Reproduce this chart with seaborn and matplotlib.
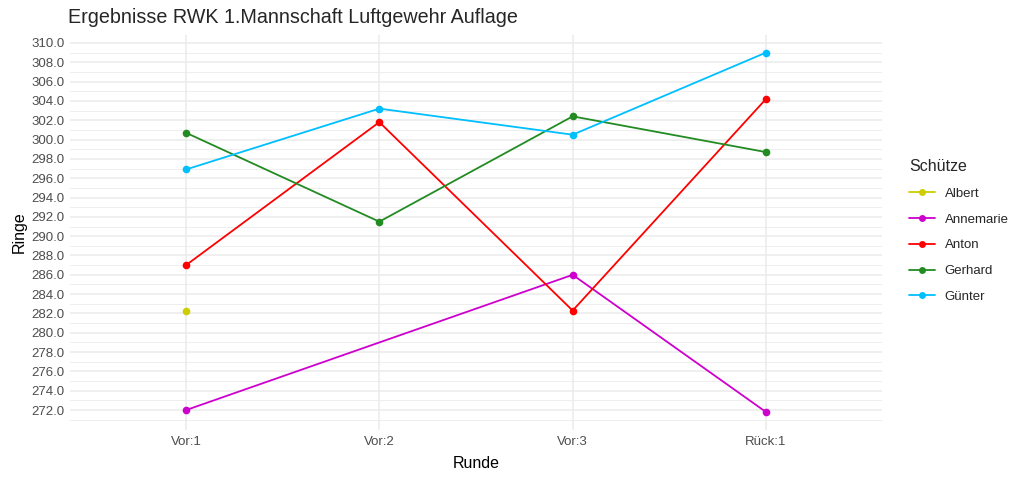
import matplotlib
matplotlib.use("Agg")
import matplotlib.pyplot as plt
from matplotlib.lines import Line2D
from matplotlib.ticker import FixedLocator, FormatStrFormatter
import seaborn as sns
import pandas as pd

rounds = ["Vor:1", "Vor:2", "Vor:3", "Rück:1"]
shooters = ["Albert", "Annemarie", "Anton", "Gerhard", "Günter"]
colors = ["#CDCD00", "#CD00CD", "#FF0000", "#228B22", "#00BFFF"]

albert_rounds = ["Vor:1"]
albert_vals = [282.3]
annemarie_rounds = ["Vor:1", "Vor:3", "Rück:1"]
annemarie_vals = [272.0, 286.0, 271.8]
anton_rounds = ["Vor:1", "Vor:2", "Vor:3", "Rück:1"]
anton_vals = [287.0, 301.8, 282.3, 304.2]
gerhard_rounds = ["Vor:1", "Vor:2", "Vor:3", "Rück:1"]
gerhard_vals = [300.7, 291.5, 302.4, 298.7]
guenter_rounds = ["Vor:1", "Vor:2", "Vor:3", "Rück:1"]
guenter_vals = [296.9, 303.2, 300.5, 309.0]

y_major = list(range(272, 311, 2))
y_minor = list(range(271, 312, 2))

series = {
    "Albert": (albert_rounds, albert_vals),
    "Annemarie": (annemarie_rounds, annemarie_vals),
    "Anton": (anton_rounds, anton_vals),
    "Gerhard": (gerhard_rounds, gerhard_vals),
    "Günter": (guenter_rounds, guenter_vals),
}
rows = []
for name, (rs, vs) in series.items():
    for r, v in zip(rs, vs):
        rows.append({"Schütze": name, "Runde": r, "pos": rounds.index(r), "Ringe": v})
df = pd.DataFrame(rows)

sns.set_theme(style="white")
plt.rcParams["font.family"] = ["Liberation Sans", "DejaVu Sans"]

fig = plt.figure(figsize=(10.24, 4.78), dpi=100)
ax = fig.add_axes([70 / 1024, 48 / 478, 812 / 1024, 395.4 / 478])

palette = dict(zip(shooters, colors))
sns.lineplot(data=df, x="pos", y="Ringe", hue="Schütze", hue_order=shooters,
             palette=palette, marker="o", markersize=5.5, markeredgewidth=0,
             linewidth=1.3, legend=False, ax=ax, sort=True, zorder=3)

ax.set_xlim(-0.6, len(rounds) - 1 + 0.6)
ymin = min(df["Ringe"]); ymax = max(df["Ringe"])
pad = (ymax - ymin) * 0.05
ax.set_ylim(ymin - pad, ymax + pad)
ax.set_xticks(range(len(rounds)))
ax.set_xticklabels(rounds)
ax.yaxis.set_major_locator(FixedLocator(y_major))
ax.yaxis.set_minor_locator(FixedLocator(y_minor))
ax.yaxis.set_major_formatter(FormatStrFormatter("%.1f"))

ax.grid(True, which="major", axis="both", color="#EBEBEB", linewidth=1.1, zorder=0)
ax.grid(True, which="minor", axis="y", color="#EBEBEB", linewidth=0.6, zorder=0)
ax.set_axisbelow(True)
for s in ax.spines.values():
    s.set_visible(False)
ax.tick_params(axis="both", which="both", length=0, labelsize=9.5, labelcolor="#4D4D4D", pad=4)

ax.set_xlabel("Runde", fontsize=11.5, color="black", labelpad=6)
ax.set_ylabel("Ringe", fontsize=11.5, color="black", labelpad=3)
fig.text(68 / 1024, 1 - 17.5 / 478, "Ergebnisse RWK 1.Mannschaft Luftgewehr Auflage",
         fontsize=14.2, ha="left", va="center")

handles = [Line2D([0], [0], color=c, marker="o", markersize=5, markeredgewidth=0, linewidth=1.3)
           for c in colors]
leg = fig.legend(handles, shooters, title="Schütze", loc="upper left",
                 bbox_to_anchor=(897 / 1024, 1 - 147 / 478), frameon=False,
                 fontsize=9.5, title_fontsize=11.5, handlelength=2.0,
                 labelspacing=1.03, handletextpad=0.72, alignment="left")

fig.savefig("out.png", dpi=100)
